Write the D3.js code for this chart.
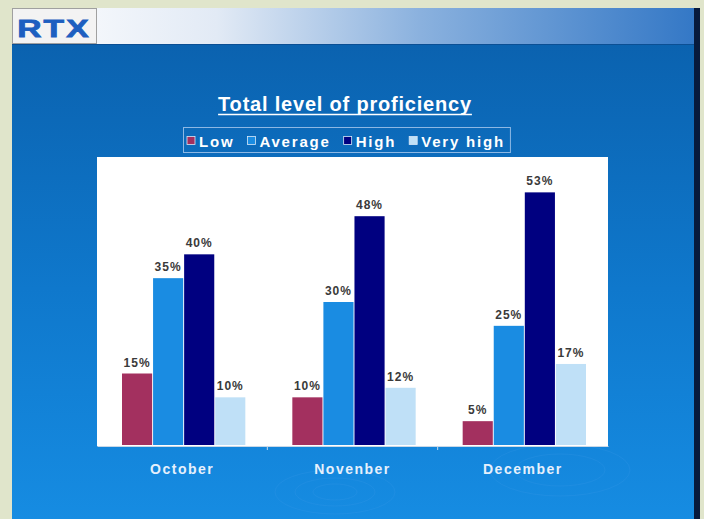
<!DOCTYPE html>
<html>
<head>
<meta charset="utf-8">
<script src="https://cdn.jsdelivr.net/npm/d3@7"></script>
<style>
  body { margin: 0; background: #e0e5cb; }
  svg { display: block; font-family: "Liberation Sans", Arial, sans-serif; }
</style>
</head>
<body>
<div id="chart"></div>
<script>
// data
var months = ["October", "Novenber", "December"];
var levels = ["Low", "Average", "High", "Very high"];
var lowValues = [15, 10, 5];
var averageValues = [35, 30, 25];
var highValues = [40, 48, 53];
var veryHighValues = [10, 12, 17];
var levelColors = ["#a3305f", "#1a8ce2", "#000080", "#bfe0f7"];

var rows = months.map(function(m, i) {
  return {month: m, Low: lowValues[i], Average: averageValues[i], High: highValues[i], "Very high": veryHighValues[i]};
});

var W = 704, H = 519;
// plot area (white box)
var plot = {left: 97, top: 157, right: 608, bottom: 446};

var svg = d3.select("#chart")
  .append("svg")
    .attr("width", W)
    .attr("height", H);

var defs = svg.append("defs");
var bgGrad = defs.append("linearGradient").attr("id", "bg")
  .attr("x1", 0).attr("y1", 0).attr("x2", 0).attr("y2", 1);
bgGrad.append("stop").attr("offset", "0%").attr("stop-color", "#0a5fab");
bgGrad.append("stop").attr("offset", "55%").attr("stop-color", "#0f78cc");
bgGrad.append("stop").attr("offset", "100%").attr("stop-color", "#168ce2");

var headGrad = defs.append("linearGradient").attr("id", "head")
  .attr("x1", 0).attr("y1", 0).attr("x2", 1).attr("y2", 0);
headGrad.append("stop").attr("offset", "0%").attr("stop-color", "#ffffff");
headGrad.append("stop").attr("offset", "30%").attr("stop-color", "#e2eaf5");
headGrad.append("stop").attr("offset", "60%").attr("stop-color", "#8ab1de");
headGrad.append("stop").attr("offset", "100%").attr("stop-color", "#3478c6");

// slide background
svg.append("rect")
  .attr("x", 12).attr("y", 8)
  .attr("width", 683).attr("height", H - 8)
  .attr("fill", "url(#bg)");
svg.append("rect")
  .attr("x", 694).attr("y", 8)
  .attr("width", 6).attr("height", H - 8)
  .attr("fill", "#071a3c");

// faint swirl decoration
var swirls = svg.append("g").attr("fill", "none").attr("stroke", "#3e9be8").attr("stroke-opacity", 0.22);
[[335, 492, 60, 22], [335, 492, 40, 14], [335, 492, 22, 8], [560, 470, 70, 26], [560, 470, 45, 16]].forEach(function(e) {
  swirls.append("ellipse").attr("cx", e[0]).attr("cy", e[1]).attr("rx", e[2]).attr("ry", e[3]);
});

// header band
svg.append("rect")
  .attr("x", 12).attr("y", 8)
  .attr("width", 682).attr("height", 36)
  .attr("fill", "url(#head)");
svg.append("line")
  .attr("x1", 12).attr("x2", 694)
  .attr("y1", 44.5).attr("y2", 44.5)
  .attr("stroke", "#0b4f94");
svg.append("rect")
  .attr("x", 12.5).attr("y", 8.5)
  .attr("width", 84).attr("height", 35)
  .attr("fill", "#f3f3f3")
  .attr("stroke", "#a0a0a0");
svg.append("text")
  .attr("transform", "translate(54,37) scale(1.4,1)")
  .attr("text-anchor", "middle")
  .attr("font-size", 24)
  .attr("font-weight", "bold")
  .attr("letter-spacing", 1.5)
  .attr("stroke", "#1d5fc0").attr("stroke-width", 0.8)
  .attr("fill", "#1d5fc0")
  .text("RTX");

// title
var title = svg.append("text")
  .attr("x", 345).attr("y", 111)
  .attr("text-anchor", "middle")
  .attr("font-size", 20)
  .attr("font-weight", "bold")
  .attr("letter-spacing", 0.8)
  .attr("fill", "#ffffff")
  .text("Total level of proficiency");
var tw = title.node().getComputedTextLength();
svg.append("line")
  .attr("x1", 345 - tw / 2).attr("x2", 345 + tw / 2)
  .attr("y1", 114.5).attr("y2", 114.5)
  .attr("stroke", "#ffffff").attr("stroke-width", 1.5);

// legend
var legend = svg.append("g");
var lx = 187;
levels.forEach(function(k, i) {
  legend.append("rect")
    .attr("x", lx).attr("y", 136.5)
    .attr("width", 8).attr("height", 8)
    .attr("fill", levelColors[i])
    .attr("stroke", "#d8e8f8").attr("stroke-width", 0.8);
  var t = legend.append("text")
    .attr("x", lx + 12).attr("y", 146.5)
    .attr("font-size", 15)
    .attr("font-weight", "bold")
    .attr("letter-spacing", 1.8)
    .attr("fill", "#ffffff")
    .text(k);
  lx += 12 + t.node().getComputedTextLength() + 13;
});
legend.insert("rect", ":first-child")
  .attr("x", 183.5).attr("y", 127.5)
  .attr("width", lx - 183 - 8).attr("height", 25)
  .attr("fill", "none")
  .attr("stroke", "#8db8e4");

// white plot area
svg.append("rect")
  .attr("x", plot.left).attr("y", plot.top)
  .attr("width", plot.right - plot.left).attr("height", plot.bottom - plot.top)
  .attr("fill", "#ffffff");

// scales
var x0 = d3.scaleBand()
  .domain(months)
  .range([plot.left, plot.right]);
var x1 = d3.scaleBand()
  .domain(levels)
  .range([25, x0.bandwidth() - 22])
  .paddingInner(0.03);
var y = d3.scaleLinear()
  .domain([0, 60])
  .range([plot.bottom - 1, 159]);

// bars
var groups = svg.append("g").selectAll("g")
  .data(rows)
  .enter().append("g")
    .attr("transform", function(d) { return "translate(" + x0(d.month) + ",0)"; });

groups.selectAll("rect")
  .data(function(d) { return levels.map(function(k) { return {key: k, value: d[k]}; }); })
  .enter().append("rect")
    .attr("x", function(d) { return x1(d.key); })
    .attr("y", function(d) { return y(d.value); })
    .attr("width", x1.bandwidth())
    .attr("height", function(d) { return y(0) - y(d.value); })
    .attr("fill", function(d, i) { return levelColors[i]; });

groups.selectAll("text")
  .data(function(d) { return levels.map(function(k) { return {key: k, value: d[k]}; }); })
  .enter().append("text")
    .attr("x", function(d) { return x1(d.key) + x1.bandwidth() / 2; })
    .attr("y", function(d) { return y(d.value) - 7; })
    .attr("text-anchor", "middle")
    .attr("font-size", 12)
    .attr("font-weight", "bold")
    .attr("letter-spacing", 1)
    .attr("fill", "#3a3a3a")
    .text(function(d) { return d.value + "%"; });

// x axis
var xAxis = svg.append("g")
  .attr("transform", "translate(0," + plot.bottom + ")")
  .call(d3.axisBottom(x0).tickSize(0).tickPadding(18));
xAxis.select(".domain").attr("stroke", "#c8d8e8");
xAxis.selectAll("text")
  .attr("font-family", "Liberation Sans, Arial, sans-serif")
  .attr("font-size", 14)
  .attr("font-weight", "bold")
  .attr("letter-spacing", 1.5)
  .attr("fill", "#e6f0fc");
// tick marks between categories
xAxis.selectAll(".sep")
  .data(months.slice(1))
  .enter().append("line")
    .attr("x1", function(d) { return x0(d); })
    .attr("x2", function(d) { return x0(d); })
    .attr("y1", 0).attr("y2", 4)
    .attr("stroke", "#c8d8e8");
</script>
</body>
</html>
